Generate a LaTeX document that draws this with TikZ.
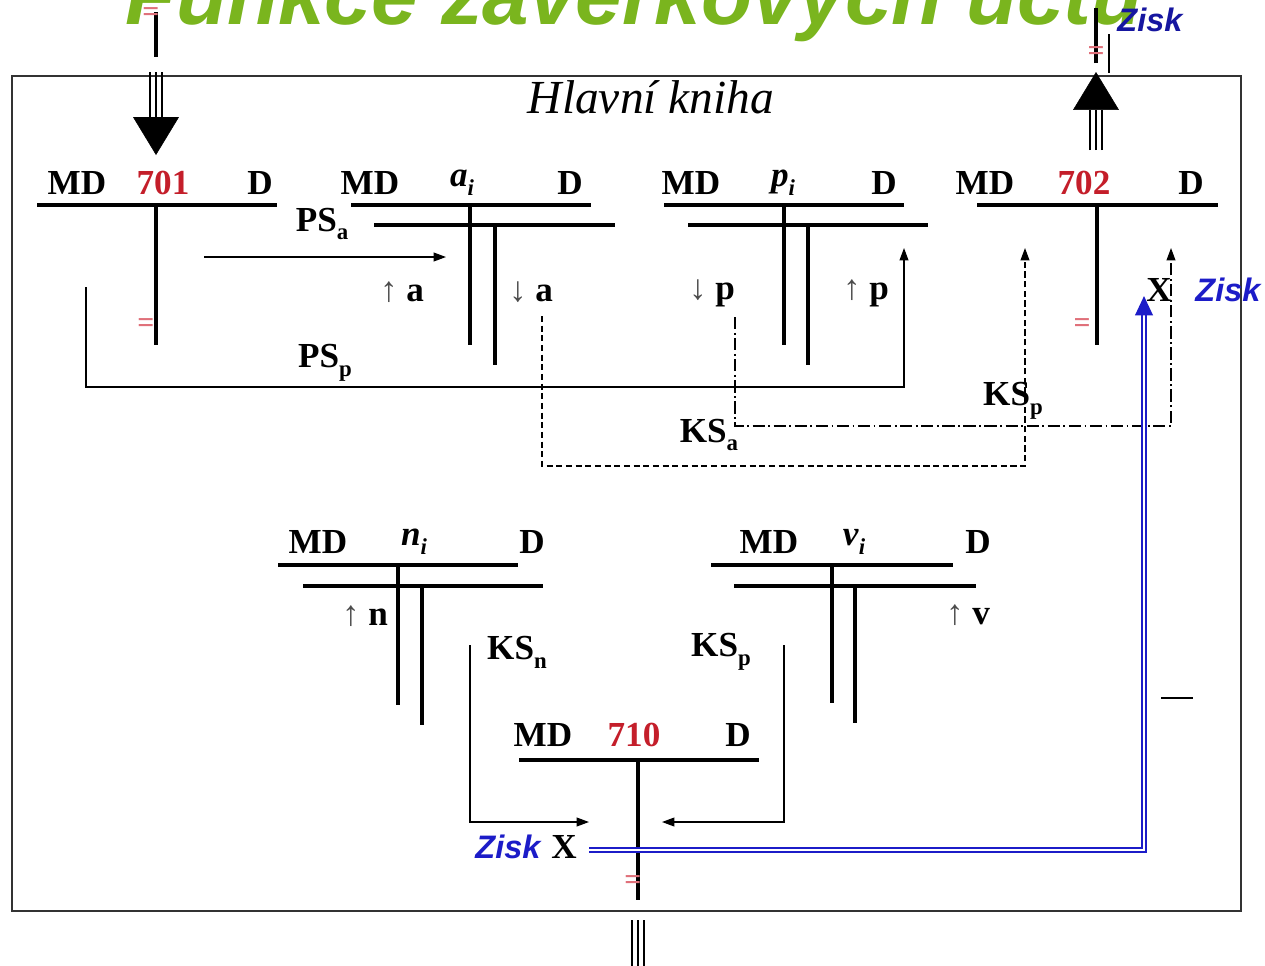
\documentclass[tikz,border=0pt]{standalone}
\usepackage{fontspec}
\setmainfont{Liberation Serif}
\newfontfamily\sansf{Liberation Sans}
\usetikzlibrary{arrows.meta}
\definecolor{titlegreen}{HTML}{7AB51E}
\definecolor{accred}{HTML}{C41E2A}
\definecolor{eqred}{HTML}{E0707A}
\definecolor{ziskblue}{HTML}{1C1CC8}
\newcommand{\lsub}[1]{\raisebox{-0.55ex}{\fontsize{13}{13}\selectfont #1}}
\newcommand{\arw}[1]{{\mdseries\color{black!70}#1}}
\tikzset{
  hd/.style={font=\fontsize{20}{24}\selectfont\bfseries, inner sep=0pt},
  num/.style={hd, text=accred},
  eqs/.style={font=\fontsize{17}{17}\selectfont\bfseries, text=eqred, inner sep=0pt},
  zisk/.style={font=\sansf\bfseries\itshape\fontsize{18.5}{22}\selectfont, text=ziskblue, inner sep=0pt},
  book/.style={font=\fontsize{27}{30}\selectfont\itshape, inner sep=0pt},
  title/.style={font=\sansf\bfseries\itshape\fontsize{47.6}{50}\selectfont, text=titlegreen, inner sep=0pt},
  frame/.style={draw=black!80, line width=0.8pt},
  tl/.style={line width=2.2pt},
  thinline/.style={line width=0.7pt},
  arr/.style={thinline, -{Triangle[length=7pt,width=5pt]}},
  dashln/.style={arr, dash pattern=on 3.5pt off 2pt},
  dashdot/.style={arr, dash pattern=on 7pt off 2pt on 1pt off 2pt},
  profit/.style={draw=ziskblue, line width=1.1pt, double=white, double distance=0.7pt,
                 -{Triangle[length=11pt,width=10pt]}},
  bigarr/.style={line width=0.3pt, -{Triangle[length=21.5pt,width=26pt]}},
  triple/.style={line width=1.5pt,
                 preaction={draw, line width=1.5pt, transform canvas={xshift=-3.5pt}},
                 postaction={draw, line width=1.5pt, transform canvas={xshift=3.5pt}}},
}
\begin{document}
\begin{tikzpicture}[x=0.02cm, y=-0.02cm]
  \clip (0,0) rectangle (1265,965);
  \fill[white] (0,0) rectangle (1265,965);
  % title, only its lower part is on the page
  \node[title, anchor=base] (title) at (634,24) {Funkce závěrkových účtů};
  \draw[frame] (12,76) rectangle (1241,911);
  \node[book] (book) at (651,97) {Hlavní kniha};

  % 701
  \node[hd] (md701) at (77,183) {MD};
  \node[num] (c701) at (163,183) {701};
  \node[hd] (d701) at (260,183) {D};
  \draw[tl] (37,205) -- (277,205) (156,205) -- (156,345);
  \node[eqs] (eq701) at (146,326) {=};

  % a_i
  \node[hd] (mda) at (370,183) {MD};
  \node[hd] (ca) at (462,183) {\textit{a}\lsub{\textit{i}}};
  \node[hd] (da) at (570,183) {D};
  \draw[tl] (351,205) -- (591,205) (470,205) -- (470,345);
  \draw[tl] (374,225) -- (615,225) (495,225) -- (495,365);
  \node[hd] (psa) at (322,224) {PS\lsub{a}};
  \node[hd] (upa) at (402,292) {\arw{↑} a};
  \node[hd] (dna) at (531,292) {\arw{↓} a};

  % p_i
  \node[hd] (mdp) at (691,183) {MD};
  \node[hd] (cp) at (783,183) {\textit{p}\lsub{\textit{i}}};
  \node[hd] (dp) at (884,183) {D};
  \draw[tl] (664,205) -- (904,205) (784,205) -- (784,345);
  \draw[tl] (688,225) -- (928,225) (808,225) -- (808,365);
  \node[hd] (dnp) at (712,293) {\arw{↓} p};
  \node[hd] (upp) at (866,293) {\arw{↑} p};

  % 702
  \node[hd] (md702) at (985,183) {MD};
  \node[num] (c702) at (1084,183) {702};
  \node[hd] (d702) at (1191,183) {D};
  \draw[tl] (977,205) -- (1218,205) (1097,205) -- (1097,345);
  \node[eqs] (eq702) at (1082,326) {=};
  \node[hd] (x702) at (1159,290) {X};
  \node[zisk] (z702) at (1228,290) {Zisk};

  % n_i
  \node[hd] (mdn) at (318,542) {MD};
  \node[hd] (cn) at (414,542) {\textit{n}\lsub{\textit{i}}};
  \node[hd] (dn) at (532,542) {D};
  \draw[tl] (278,565) -- (518,565) (398,565) -- (398,705);
  \draw[tl] (303,586) -- (543,586) (422,586) -- (422,725);
  \node[hd] (upn) at (365,616) {\arw{↑} n};

  % v_i
  \node[hd] (mdv) at (769,542) {MD};
  \node[hd] (cv) at (854,542) {\textit{v}\lsub{\textit{i}}};
  \node[hd] (dv) at (978,542) {D};
  \draw[tl] (711,565) -- (953,565) (832,565) -- (832,703);
  \draw[tl] (734,586) -- (976,586) (855,586) -- (855,723);
  \node[hd] (upv) at (968,615) {\arw{↑} v};

  % 710
  \node[hd] (md710) at (543,735) {MD};
  \node[num] (c710) at (634,735) {710};
  \node[hd] (d710) at (738,735) {D};
  \draw[tl] (519,760) -- (759,760) (638,760) -- (638,900);
  \node[eqs] (eq710) at (633,883) {=};
  \node[zisk] (z710) at (508,847) {Zisk};
  \node[hd] (x710) at (564,847) {X};

  % balances
  \node[hd] (psp) at (325,363) {PS\lsub{p}};
  \node[hd] (ksa) at (709,435) {KS\lsub{a}};
  \node[hd] (ksp) at (1013,401) {KS\lsub{p}};
  \node[hd] (ksn) at (517,652) {KS\lsub{n}};
  \node[hd] (ksv) at (721,652) {KS\lsub{p}};

  \coordinate (a0) at (204,257);   \coordinate (a1) at (446,257);
  \coordinate (psp0) at (86,287);  \coordinate (pspc) at (86,387);  \coordinate (psp1) at (904,248);
  \coordinate (ksa0) at (542,316); \coordinate (ksac) at (542,466); \coordinate (ksa1) at (1025,248);
  \coordinate (ksp0) at (735,317); \coordinate (kspc) at (735,426); \coordinate (ksp1) at (1171,248);
  \coordinate (ksn0) at (470,645); \coordinate (ksnc) at (470,822); \coordinate (ksn1) at (589,822);
  \coordinate (ksv0) at (784,645); \coordinate (ksvc) at (784,822); \coordinate (ksv1) at (662,822);
  \coordinate (zs0) at (589,850);  \coordinate (zs1) at (1144,296);

  \draw[arr] (a0) -- (a1);
  \draw[arr] (psp0) -- (pspc) -| (psp1);
  \draw[dashln] (ksa0) -- (ksac) -| (ksa1);
  \draw[dashdot] (ksp0) -- (kspc) -| (ksp1);
  \draw[arr] (ksn0) -- (ksnc) -- (ksn1);
  \draw[arr] (ksv0) -- (ksvc) -- (ksv1);
  \draw[profit] (zs0) -| (zs1);
  \draw[thinline] (1161,698) -- (1193,698);

  % opening into 701
  \coordinate (op0) at (156,12);  \coordinate (op1) at (156,57);
  \coordinate (op2) at (156,72);  \coordinate (op3) at (156,118); \coordinate (op4) at (156,155);
  \draw[tl] (op0) -- (op1);
  \node[eqs] (eqop) at (151,15) {=};
  \draw[triple] (op2) -- (op3);
  \draw[bigarr] (op3) -- (op4);

  % closing out of 702
  \coordinate (cl0) at (1096,150); \coordinate (cl1) at (1096,110); \coordinate (cl2) at (1096,72);
  \coordinate (cl3) at (1096,63);  \coordinate (cl4) at (1096,8);
  \draw[triple] (cl0) -- (cl1);
  \draw[bigarr] (cl1) -- (cl2);
  \draw[tl] (cl3) -- (cl4);
  \draw[line width=1.1pt] (1109,34) -- (1109,73);
  \node[eqs] (eqcl) at (1096,54) {=};
  \node[zisk, text=ziskblue!80!black] (ztop) at (1150,20) {Zisk};

  % out of 710
  \coordinate (bt0) at (638,920); \coordinate (bt1) at (638,970);
  \draw[triple] (bt0) -- (bt1);
\end{tikzpicture}
\end{document}
